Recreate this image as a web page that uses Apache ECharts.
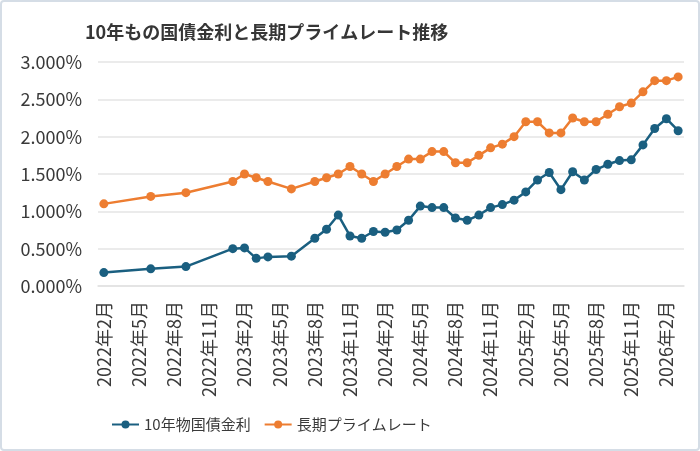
<!DOCTYPE html>
<html>
<head>
<meta charset="utf-8">
<script src="https://cdn.jsdelivr.net/npm/echarts@6/dist/echarts.min.js"></script>
<style>
    html, body { margin: 0; padding: 0; background: #fff; }
    #wrap { position: relative; width: 700px; height: 451px; }
    #chart { width: 700px; height: 451px; }
    #frame { position: absolute; left: 0; top: 0; width: 700px; height: 451px; box-sizing: border-box;
             border: 2px solid #d5dde6; border-radius: 4px; pointer-events: none; }
</style>
</head>
<body>
<div id="wrap">
    <div id="chart"></div>
    <div id="frame"></div>
</div>
<script>
// 月（カテゴリ）
var months = [
    '2022年2月', '2022年3月', '2022年4月', '2022年5月', '2022年6月', '2022年7月', '2022年8月', '2022年9月',
    '2022年10月', '2022年11月', '2022年12月', '2023年1月', '2023年2月', '2023年3月', '2023年4月', '2023年5月',
    '2023年6月', '2023年7月', '2023年8月', '2023年9月', '2023年10月', '2023年11月', '2023年12月', '2024年1月',
    '2024年2月', '2024年3月', '2024年4月', '2024年5月', '2024年6月', '2024年7月', '2024年8月', '2024年9月',
    '2024年10月', '2024年11月', '2024年12月', '2025年1月', '2025年2月', '2025年3月', '2025年4月', '2025年5月',
    '2025年6月', '2025年7月', '2025年8月', '2025年9月', '2025年10月', '2025年11月', '2025年12月', '2026年1月',
    '2026年2月', '2026年3月'
];

// 10年物国債金利 (%)  null = データなし
var jgb10 = [
    0.18, null, null, null, 0.23, null, null, 0.26,
    null, null, null, 0.50, 0.51, 0.37, 0.39, null,
    0.40, null, 0.64, 0.76, 0.95, 0.67, 0.64, 0.73,
    0.72, 0.75, 0.88, 1.07, 1.05, 1.05, 0.91, 0.88,
    0.95, 1.05, 1.09, 1.15, 1.26, 1.42, 1.52, 1.29,
    1.53, 1.42, 1.56, 1.63, 1.68, 1.69, 1.89, 2.11,
    2.24, 2.08
];

// 長期プライムレート (%)
var primeRate = [
    1.10, null, null, null, 1.20, null, null, 1.25,
    null, null, null, 1.40, 1.50, 1.45, 1.40, null,
    1.30, null, 1.40, 1.45, 1.50, 1.60, 1.50, 1.40,
    1.50, 1.60, 1.70, 1.70, 1.80, 1.80, 1.65, 1.65,
    1.75, 1.85, 1.90, 2.00, 2.20, 2.20, 2.05, 2.05,
    2.25, 2.20, 2.20, 2.30, 2.40, 2.45, 2.60, 2.75,
    2.75, 2.80
];

var seriesNames = ['10年物国債金利', '長期プライムレート'];
var colors = ['#1a5f80', '#ed7d31'];
var font = '"Noto Sans CJK JP", "Noto Sans", sans-serif';

function draw() {
    var option = {
        animation: false,
        color: colors,
        title: {
            text: '10年もの国債金利と長期プライムレート推移',
            left: 85,
            top: 23,
            padding: 0,
            textStyle: {
                fontFamily: font,
                fontSize: 18,
                fontWeight: 'bold',
                color: '#363636'
            }
        },
        legend: {
            data: seriesNames,
            top: 412,
            left: 106,
            itemWidth: 27,
            itemHeight: 10,
            itemGap: 13,
            textStyle: {
                fontFamily: font,
                fontSize: 15,
                color: '#3a3a3a'
            }
        },
        grid: {
            left: 98,
            right: 16,
            top: 62,
            bottom: 165
        },
        xAxis: {
            type: 'category',
            data: months,
            boundaryGap: true,
            axisLine: { lineStyle: { color: '#e2e2e2', width: 1.5 } },
            axisTick: { interval: 2, length: 6, lineStyle: { color: '#e2e2e2', width: 1.5 } },
            axisLabel: {
                interval: 2,
                rotate: 90,
                margin: 15,
                fontFamily: font,
                fontSize: 18,
                color: '#3a3a3a'
            }
        },
        yAxis: {
            type: 'value',
            min: 0,
            max: 3,
            interval: 0.5,
            axisLine: { show: false },
            axisTick: { show: false },
            splitLine: { lineStyle: { color: '#e4e4e4', width: 1.5 } },
            axisLabel: {
                margin: 16,
                fontFamily: font,
                fontSize: 18,
                color: '#3a3a3a',
                formatter: function (v) { return v.toFixed(3) + '%'; }
            }
        },
        series: [
            {
                name: seriesNames[0],
                type: 'line',
                data: jgb10,
                connectNulls: true,
                showAllSymbol: true,
                symbol: 'circle',
                symbolSize: 9,
                lineStyle: { width: 2.5 }
            },
            {
                name: seriesNames[1],
                type: 'line',
                data: primeRate,
                connectNulls: true,
                showAllSymbol: true,
                symbol: 'circle',
                symbolSize: 9,
                lineStyle: { width: 2.5 }
            }
        ]
    };
    var chart = echarts.init(document.getElementById('chart'));
    chart.setOption(option);
}

draw();
</script>
</body>
</html>
